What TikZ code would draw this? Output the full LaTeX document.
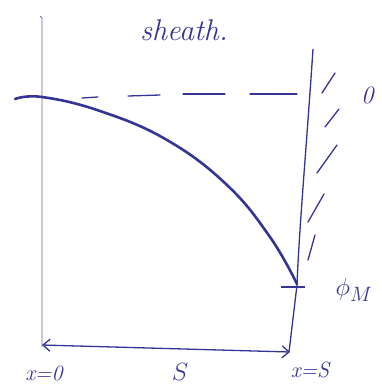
\documentclass[tikz,border=0pt]{standalone}
\usetikzlibrary{arrows.meta}
\definecolor{ink}{RGB}{52,52,150}
\begin{document}
\begin{tikzpicture}[x=1pt,y=-1pt,
  frame/.style={draw=ink,line width=1.3pt},
  thinframe/.style={draw=ink!75,line width=0.9pt},
  curve/.style={draw=ink,line width=2.6pt,line cap=round},
  hatch/.style={draw=ink,line width=1.3pt,line cap=round},
  dashseg/.style={draw=ink,line width=1.3pt,line cap=round},
  lbl/.style={text=ink,font=\itshape\fontsize{30}{32}\selectfont,inner sep=0pt}]
\useasboundingbox (0,0) rectangle (382,391);
% left and right boundaries
\coordinate (lt) at (42,18); \coordinate (lb) at (42,347);
\draw[thinframe] (40,16) -- (lt) -- (lb);
\coordinate (rt) at (313,49); \coordinate (rm) at (297,285); \coordinate (rb) at (289,352);
\draw[frame] (rt) .. controls (307,140) and (299,230) .. (rm) -- (rb);
% dashed level
\draw[dashseg] (82,98) -- (98,97);
\draw[dashseg] (128,96) -- (160,95);
\draw[dashseg] (183,94) -- (225,94);
\draw[dashseg] (250,94) -- (297,94);
% potential curve
\draw[curve] plot[smooth,tension=0.7] coordinates {(15,99) (42,97) (100,111) (167,140) (227,185) (270,237) (297,284)};
% tick at phi_M
\coordinate (tl) at (281,287); \coordinate (tr) at (305,287);
\draw[frame] (tl) -- (tr);
% hatching (wall)
\draw[hatch] (322,93) -- (335,73);
\draw[hatch] (325,127) -- (339,109);
\draw[hatch] (317,173) -- (337,145);
\draw[hatch] (308,222) -- (324,194);
\draw[hatch] (308,260) -- (315,235);
% dimension arrow
\coordinate (al) at (42,345); \coordinate (ar) at (290,352);
\draw[frame,{Straight Barb[length=7pt,width=12pt]}-{Straight Barb[length=7pt,width=12pt]}] (al) -- (ar);
% labels
\node[lbl] (sheath) at (184,30) {sheath.};
\node[lbl,font=\fontsize{24}{26}\selectfont] (zero) at (369,95) {$\mathit{0}$};
\node[lbl,font=\fontsize{30}{32}\selectfont] (phim) at (354,290) {$\phi_M$};
\node[lbl,font=\itshape\fontsize{22}{24}\selectfont] (x0) at (44,373) {x=0};
\node[lbl,font=\fontsize{34}{36}\selectfont] (S) at (180,372) {$S$};
\node[lbl,font=\itshape\fontsize{22}{24}\selectfont] (xs) at (310,370) {x=S};
\end{tikzpicture}
\end{document}
